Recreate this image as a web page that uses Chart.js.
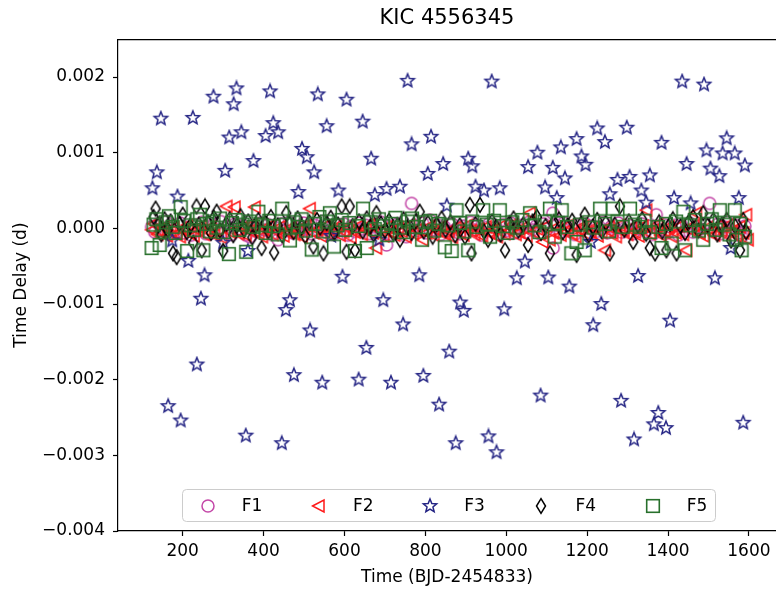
<!DOCTYPE html>
<html><head><meta charset="utf-8">
<script src="https://cdn.jsdelivr.net/npm/chart.js@4.4.1/dist/chart.umd.min.js"></script>
<style>html,body{margin:0;padding:0;background:#fff;overflow:hidden}#wrap{width:776px;height:592px;position:relative}</style>
</head><body><div id="wrap"><canvas id="c" width="776" height="592"></canvas></div>
<script>
// ---- data (x: BJD-2454833, y: time delay in days) ----
const seriesLabels = ['F1','F2','F3','F4','F5'];
const xTicks = [200,400,600,800,1000,1200,1400,1600];
const yTicks = [-0.004,-0.003,-0.002,-0.001,0,0.001,0.002];

const f1X=[123,131,140,149,158,167,176,185,194,203,212,221,230,239,248,257,267,276,285,294,303,312,321,330,339,348,357,366,375,384,393,402,411,420,428,436,445,454,463,472,481,490,499,508,518,527,536,545,554,563,572,581,590,599,608,617,626,635,644,653,662,671,680,690,704,713,722,731,740,753,766,775,784,793,802,811,820,829,838,847,856,866,876,885,894,903,912,921,930,939,948,957,966,975,984,993,1002,1011,1020,1029,1038,1047,1056,1065,1074,1083,1092,1101,1115,1116,1124,1133,1142,1151,1160,1169,1178,1187,1196,1205,1214,1223,1232,1241,1250,1259,1268,1277,1286,1295,1304,1313,1326,1335,1344,1353,1362,1371,1380,1389,1398,1407,1417,1426,1435,1444,1453,1462,1471,1480,1489,1503,1512,1521,1530,1539,1548,1557,1566,1575,1582,1590];
const f1Y=[0.00002,-0.00005,0.00006,-0.00002,0.00009,-0.00008,0.00003,-0.00004,0.00007,-0.00006,
0.00001,-0.00009,0.00004,-0.00003,0.00008,-0.00007,-0.00007,0.00005,-0.00002,0.00009,
-0.00005,0.00002,-0.00008,0.00006,-0.00001,0.00004,-0.00009,-0.00011,0.00003,-0.00004,
0.00007,-0.00002,0.00005,-0.00008,0.00001,-0.00015,0.00006,-0.00003,0.00008,-0.00006,
0.00002,-0.00004,0.00007,-0.00001,-0.00007,0.00004,-0.00003,0.00009,-0.00005,0.00001,
-0.00008,0.00005,-0.00002,0.00006,-0.00009,0.00003,-0.00004,0.00007,-0.00001,0.00004,
-0.00007,0.00002,-0.00005,0.00008,-0.00022,0.00003,-0.00004,0.00006,-0.00002,-0.00011,
0.00033,0.00004,-0.00003,0.00007,-0.00006,0.00011,-0.00002,0.00005,-0.00008,0.00002,
-0.00004,0.00006,-0.00001,-0.00007,0.00003,-0.00005,0.00008,-0.00002,0.00004,-0.00009,
0.00001,0.00006,-0.00004,0.00002,-0.00008,0.00005,-0.00003,0.00007,-0.00006,0.00001,
0.00004,-0.00005,0.00008,-0.00002,0.00003,-0.00007,0.00006,-0.00001,0.00020,-0.00026,
0.00004,-0.00005,0.00007,-0.00003,0.00002,-0.00008,0.00005,-0.00002,0.00006,-0.00009,
0.00003,-0.00004,0.00001,0.00008,-0.00006,0.00002,-0.00003,0.00007,-0.00005,0.00001,
0.00004,-0.00007,0.00000,0.00006,-0.00004,0.00003,-0.00008,0.00018,-0.00002,0.00005,
-0.00006,0.00002,0.00004,-0.00009,0.00003,-0.00003,0.00007,-0.00005,0.00002,-0.00001,
0.00006,0.00033,-0.00004,0.00005,-0.00007,0.00002,0.00008,-0.00003,0.00004,-0.00006,
-0.00011,0.00003];

const f2X=[125,130,138,146,154,162,170,178,186,194,203,212,220,228,237,245,254,262,270,279,287,296,309,318,329,338,347,356,365,372,379,388,397,406,414,423,432,441,450,459,468,477,486,495,505,515,524,533,543,552,561,570,580,589,598,607,616,626,635,644,653,662,671,679,688,697,706,715,724,733,742,752,761,770,779,794,803,812,821,830,840,849,858,867,876,886,895,904,913,922,932,941,950,959,968,978,987,996,1006,1015,1024,1033,1042,1051,1059,1068,1078,1091,1099,1108,1117,1126,1135,1145,1154,1163,1172,1182,1191,1200,1209,1218,1227,1236,1245,1254,1263,1272,1281,1291,1300,1310,1319,1328,1338,1347,1356,1365,1374,1383,1393,1402,1411,1420,1429,1438,1446,1455,1464,1470,1479,1488,1497,1506,1515,1524,1533,1542,1551,1560,1569,1578,1587,1594,1598];
const f2Y=[-0.00002,0.00006,-0.00008,-0.00004,0.00002,-0.00010,-0.00005,0.00001,-0.00007,-0.00011,
-0.00003,0.00004,-0.00006,-0.00010,-0.00002,0.00003,-0.00008,-0.00004,0.00002,-0.00009,
-0.00003,-0.00012,0.00029,-0.00005,0.00028,-0.00007,0.00001,-0.00009,-0.00003,0.00005,
0.00028,-0.00006,-0.00011,-0.00002,0.00003,-0.00008,-0.00004,0.00002,-0.00010,-0.00005,
0.00001,-0.00008,-0.00003,-0.00011,0.00004,0.00026,-0.00006,-0.00002,-0.00010,0.00003,
-0.00007,-0.00003,0.00002,-0.00009,-0.00004,0.00001,-0.00012,-0.00005,0.00003,-0.00008,
-0.00002,0.00005,-0.00006,-0.00026,-0.00003,-0.00010,0.00002,-0.00005,-0.00009,0.00001,
-0.00004,-0.00011,0.00004,-0.00007,-0.00002,-0.00015,-0.00006,0.00003,-0.00009,-0.00003,
0.00002,-0.00008,-0.00004,-0.00012,0.00001,-0.00005,-0.00009,0.00004,-0.00003,-0.00008,
-0.00001,-0.00010,0.00002,-0.00006,-0.00002,-0.00011,0.00003,-0.00007,-0.00003,0.00005,
-0.00008,-0.00004,0.00001,-0.00010,0.00020,-0.00005,-0.00001,-0.00018,0.00003,-0.00015,
-0.00006,0.00002,-0.00009,-0.00004,0.00004,-0.00007,-0.00011,-0.00002,0.00003,-0.00008,
-0.00004,0.00001,-0.00010,-0.00005,-0.00029,0.00002,-0.00006,-0.00011,0.00004,-0.00003,
-0.00008,0.00001,-0.00005,-0.00010,0.00003,0.00024,-0.00007,-0.00002,0.00005,-0.00009,
-0.00004,0.00002,-0.00011,-0.00006,0.00003,-0.00008,-0.00029,-0.00002,0.00004,0.00020,
-0.00006,-0.00010,0.00001,-0.00005,-0.00009,0.00003,-0.00003,-0.00008,0.00005,-0.00004,
-0.00010,0.00002,-0.00006,0.00018,-0.00015];

const f3X=[125,136,146,164,174,187,195,214,225,235,245,254,276,300,305,315,326,333,345,356,361,375,405,416,424,436,445,455,465,475,486,495,507,515,525,534,545,556,567,585,595,605,635,645,654,666,675,686,696,704,715,737,745,756,766,785,795,806,814,834,844,853,859,875,886,895,906,916,924,945,956,964,976,984,995,1026,1046,1054,1077,1085,1096,1104,1115,1125,1135,1145,1156,1174,1186,1196,1209,1215,1225,1235,1244,1256,1275,1284,1298,1305,1316,1326,1334,1346,1355,1365,1376,1384,1395,1405,1415,1435,1446,1456,1489,1495,1505,1516,1527,1535,1545,1555,1565,1575,1586,1590];
const f3Y=[0.00053,0.00074,0.00145,-0.00235,-0.00016,0.00042,-0.00254,-0.00043,0.00146,-0.00180,
-0.00093,-0.00062,0.00174,-0.00019,0.00076,0.00120,0.00164,0.00185,0.00127,-0.00274,
-0.00030,0.00089,0.00122,0.00181,0.00139,0.00127,-0.00284,-0.00108,-0.00095,-0.00194,
0.00048,0.00105,0.00094,-0.00135,0.00074,0.00177,-0.00204,0.00135,-0.00010,0.00050,
-0.00064,0.00170,-0.00200,0.00141,-0.00158,0.00092,0.00044,-0.00015,-0.00095,0.00052,
-0.00204,0.00055,-0.00127,0.00195,0.00111,-0.00062,-0.00195,0.00072,0.00121,-0.00233,
0.00085,0.00030,-0.00163,-0.00284,-0.00098,-0.00109,0.00092,0.00082,0.00055,0.00050,
-0.00275,0.00194,-0.00296,0.00053,-0.00107,-0.00066,-0.00044,0.00081,0.00100,-0.00221,
0.00054,-0.00065,0.00080,0.00040,0.00107,0.00066,-0.00077,0.00118,0.00095,0.00084,
-0.00018,-0.00128,0.00132,-0.00100,0.00114,0.00045,0.00064,-0.00228,0.00133,0.00068,
-0.00279,-0.00063,0.00050,0.00034,0.00070,-0.00259,-0.00244,0.00113,-0.00264,-0.00122,
0.00040,0.00194,0.00085,0.00033,0.00190,0.00103,0.00079,-0.00066,0.00069,0.00099,
0.00119,-0.00026,0.00099,0.00040,-0.00257,0.00083];

const f4X=[128,133,140,147,155,163,170,176,185,192,200,210,218,226,234,240,247,255,262,270,277,284,292,300,308,316,325,334,343,352,362,372,380,387,395,404,412,418,426,435,446,456,464,474,484,494,503,513,523,532,540,548,556,566,575,584,593,605,613,620,626,636,645,655,664,672,679,690,700,710,721,731,737,746,756,766,776,786,796,806,818,828,840,850,862,874,885,898,910,914,924,935,945,955,965,975,986,997,1008,1018,1030,1042,1054,1065,1076,1086,1097,1108,1118,1130,1140,1152,1163,1174,1185,1194,1204,1214,1225,1236,1246,1256,1268,1281,1292,1303,1314,1325,1336,1346,1355,1368,1378,1386,1396,1405,1412,1421,1431,1442,1452,1462,1475,1487,1498,1512,1522,1533,1545,1556,1566,1578,1586,1593];
const f4Y=[0.00015,0.00026,0.00004,-0.00008,0.00012,-0.00002,0.00009,-0.00033,-0.00038,0.00006,
0.00018,-0.00005,0.00003,-0.00019,0.00029,0.00005,-0.00029,0.00029,0.00008,-0.00006,
0.00014,0.00022,-0.00003,-0.00030,0.00006,0.00012,-0.00009,0.00004,0.00016,-0.00002,
0.00009,-0.00012,0.00003,0.00011,-0.00026,0.00007,-0.00004,0.00015,-0.00032,0.00004,
-0.00009,0.00020,0.00006,-0.00005,0.00013,0.00002,-0.00010,0.00008,-0.00024,0.00011,
0.00001,-0.00033,0.00007,0.00014,-0.00006,0.00005,0.00029,-0.00031,0.00029,0.00003,
-0.00029,0.00009,-0.00004,0.00013,0.00002,-0.00008,0.00020,0.00006,-0.00003,0.00010,
-0.00007,0.00004,-0.00015,0.00012,0.00001,-0.00006,0.00009,0.00022,-0.00004,0.00007,
-0.00011,0.00005,0.00013,-0.00002,0.00008,-0.00009,0.00004,-0.00011,0.00031,-0.00033,
0.00006,0.00031,-0.00004,-0.00015,0.00009,0.00002,-0.00008,-0.00029,0.00007,0.00013,
-0.00003,0.00005,-0.00022,0.00009,0.00015,-0.00006,0.00003,-0.00033,0.00008,0.00012,
-0.00005,0.00004,0.00010,-0.00035,0.00006,0.00018,-0.00009,0.00002,0.00011,-0.00004,
0.00007,-0.00033,0.00005,0.00029,-0.00002,0.00009,-0.00018,0.00004,0.00012,-0.00007,
-0.00026,-0.00033,0.00008,-0.00004,-0.00029,0.00006,0.00012,-0.00033,0.00003,-0.00006,
0.00009,0.00015,-0.00003,0.00020,0.00004,0.00011,-0.00008,0.00005,0.00011,-0.00016,
0.00003,-0.00029,0.00011,-0.00005];

const f5X=[123,128,135,143,150,158,166,175,182,195,203,211,220,228,236,243,251,259,267,276,284,292,300,314,322,331,340,348,357,366,375,387,396,405,414,424,435,446,455,465,474,484,494,505,519,528,538,547,556,564,574,583,593,602,612,626,635,646,655,665,675,685,695,706,716,726,737,747,757,767,777,792,800,812,822,833,848,857,865,877,886,896,906,916,926,943,952,960,970,984,993,1003,1015,1027,1040,1059,1070,1082,1095,1108,1120,1128,1137,1150,1161,1174,1182,1194,1205,1216,1232,1244,1254,1264,1275,1288,1306,1318,1330,1342,1355,1376,1384,1395,1409,1420,1438,1442,1455,1466,1476,1487,1497,1508,1518,1528,1540,1552,1565,1569,1578,1582,1590];
const f5Y=[-0.00026,0.00005,0.00012,-0.00022,-0.00003,0.00008,0.00016,0.00002,-0.00006,0.00028,
0.00010,-0.00030,0.00004,-0.00002,0.00012,0.00018,-0.00029,0.00006,-0.00004,0.00009,
0.00001,0.00013,-0.00005,-0.00034,0.00007,0.00011,-0.00002,0.00005,-0.00031,0.00009,
0.00002,0.00022,0.00004,-0.00006,0.00010,0.00003,-0.00008,0.00026,0.00005,-0.00016,
0.00008,0.00002,0.00012,-0.00003,-0.00028,0.00006,0.00015,-0.00004,0.00009,0.00020,
-0.00024,0.00004,0.00011,-0.00002,0.00007,-0.00030,0.00003,0.00026,-0.00026,0.00008,
-0.00001,0.00012,0.00003,-0.00009,0.00006,0.00014,0.00001,-0.00005,0.00009,0.00013,
0.00002,-0.00015,0.00008,0.00010,-0.00003,0.00006,-0.00025,0.00004,-0.00030,0.00024,
0.00007,-0.00004,-0.00029,0.00009,0.00002,0.00024,0.00005,-0.00011,0.00010,0.00024,
0.00003,-0.00006,0.00008,0.00001,0.00011,0.00020,0.00004,-0.00005,0.00009,0.00026,
-0.00011,0.00007,0.00024,0.00002,-0.00033,-0.00018,0.00005,-0.00029,0.00008,0.00001,
0.00026,0.00006,-0.00004,0.00026,0.00009,0.00002,0.00026,0.00005,0.00002,0.00010,
-0.00005,0.00002,-0.00026,0.00006,-0.00020,0.00009,0.00022,-0.00029,0.00004,0.00011,
-0.00003,-0.00015,0.00006,0.00012,-0.00002,0.00024,0.00005,-0.00008,0.00024,-0.00015,
0.00006,-0.00029,-0.00011];

// ---- styling ----
const FONT = 'DejaVu Sans';
const C1='rgb(196,72,168)', C2='rgb(255,25,25)', C3='rgb(36,36,132)', C4='#000000', C5='rgb(40,112,44)';

function mk(size, draw){const c=document.createElement('canvas');c.width=c.height=size;const g=c.getContext('2d');g.translate(size/2,size/2);draw(g);return c;}
const circleImg = mk(16,g=>{g.beginPath();g.arc(0,0,6,0,Math.PI*2);g.strokeStyle=C1;g.lineWidth=1.5;g.stroke();});
const triImg = mk(16,g=>{g.beginPath();g.moveTo(-6.5,0);g.lineTo(5,-6);g.lineTo(5,6);g.closePath();g.strokeStyle=C2;g.lineWidth=1.5;g.lineJoin='miter';g.stroke();});
const starImg = mk(18,g=>{g.beginPath();for(let i=0;i<10;i++){const r=i%2?3.1:7.0;const a=-Math.PI/2+i*Math.PI/5;g.lineTo(r*Math.cos(a),r*Math.sin(a));}g.closePath();g.strokeStyle=C3;g.lineWidth=1.5;g.lineJoin='miter';g.stroke();});
const diaImg = mk(18,g=>{g.beginPath();g.moveTo(0,-7.4);g.lineTo(4.5,0);g.lineTo(0,7.4);g.lineTo(-4.5,0);g.closePath();g.strokeStyle=C4;g.lineWidth=1.5;g.lineJoin='miter';g.stroke();});
const sqImg = mk(16,g=>{g.strokeStyle=C5;g.lineWidth=1.6;g.strokeRect(-6.3,-6.3,12.6,12.6);});

function zip(xs,ys){return xs.map((x,i)=>({x:x,y:ys[i]}));}
const imgs=[circleImg,triImg,starImg,diaImg,sqImg];
const cols=[C1,C2,C3,C4,C5];
const xs=[f1X,f2X,f3X,f4X,f5X], ys=[f1Y,f2Y,f3Y,f4Y,f5Y];

const datasets = seriesLabels.map((lab,i)=>({
  label: lab, data: zip(xs[i],ys[i]), pointStyle: imgs[i], pointRadius: 6,
  borderColor: cols[i], backgroundColor:'rgba(0,0,0,0)', showLine:false, order: 5-i
}));

const framePlugin = {
  id:'frame',
  afterDraw(chart){
    const a=chart.chartArea, ctx=chart.ctx;
    ctx.save(); ctx.strokeStyle='#000'; ctx.lineWidth=1.2;
    ctx.beginPath(); ctx.moveTo(a.left,a.top+0.5); ctx.lineTo(a.right,a.top+0.5); ctx.stroke();
    ctx.restore();
  }
};
const legendPlugin = {
  id:'inlegend',
  afterDraw(chart){
    const ctx=chart.ctx;
    const lx=182.5, ly=489.5, lw=533, lh=32, r=4;
    ctx.save();
    ctx.beginPath();
    ctx.moveTo(lx+r,ly);ctx.lineTo(lx+lw-r,ly);ctx.quadraticCurveTo(lx+lw,ly,lx+lw,ly+r);
    ctx.lineTo(lx+lw,ly+lh-r);ctx.quadraticCurveTo(lx+lw,ly+lh,lx+lw-r,ly+lh);
    ctx.lineTo(lx+r,ly+lh);ctx.quadraticCurveTo(lx,ly+lh,lx,ly+lh-r);
    ctx.lineTo(lx,ly+r);ctx.quadraticCurveTo(lx,ly,lx+r,ly);ctx.closePath();
    ctx.fillStyle='rgba(255,255,255,0.85)';ctx.fill();
    ctx.strokeStyle='#cccccc';ctx.lineWidth=1;ctx.stroke();
    ctx.font='17px "'+FONT+'"';ctx.fillStyle='#000';ctx.textBaseline='middle';ctx.textAlign='left';
    chart.data.datasets.forEach((ds,i)=>{
      const cx=207.7+i*111.25, cy=505.5;
      const im=ds.pointStyle;
      ctx.drawImage(im, Math.round(cx-im.width/2), Math.round(cy-im.height/2));
      ctx.fillText(ds.label, cx+34, cy+1);
    });
    ctx.restore();
  }
};

Chart.defaults.font.family = FONT;
Chart.defaults.color = '#000';

new Chart(document.getElementById('c'), {
  type:'scatter',
  data:{datasets},
  options:{
    responsive:false, animation:false, devicePixelRatio:1, events:[],
    layout:{autoPadding:false, padding:{left:0,right:0,top:0,bottom:0}},
    plugins:{
      legend:{display:false}, tooltip:{enabled:false},
      title:{display:true, text:'KIC 4556345', fullSize:false, color:'#000',
        font:{family:FONT,size:21,weight:'normal'}, padding:{top:6,bottom:8}}
    },
    scales:{
      x:{type:'linear', position:'bottom', min:40, max:1667,
        afterFit(s){s.height=61; s.paddingLeft=0; s.paddingRight=0;},
        afterBuildTicks(s){s.ticks=xTicks.map(v=>({value:v}));},
        ticks:{stepSize:200, includeBounds:false, maxRotation:0, autoSkip:false, padding:5, color:'#000', font:{family:FONT,size:17},
          callback:(v)=>String(v)},
        grid:{display:true, drawOnChartArea:false, drawTicks:true, tickLength:5, color:'#000', tickWidth:1.2},
        border:{display:true, color:'#000', width:1.2},
        title:{display:true, text:'Time (BJD-2454833)', color:'#000', font:{family:FONT,size:17}, padding:{top:2,bottom:4}}
      },
      y:{type:'linear', position:'left', min:-0.004, max:0.0025,
        afterFit(s){s.width=118; s.paddingTop=0; s.paddingBottom=0;},
        afterBuildTicks(s){s.ticks=yTicks.map(v=>({value:v}));},
        ticks:{stepSize:0.001, includeBounds:false, autoSkip:false, padding:8, color:'#000', font:{family:FONT,size:17},
          callback:(v)=>{const t=Math.abs(v).toFixed(3); return (v< -1e-9?'\u2212':'')+t;}},
        grid:{display:true, drawOnChartArea:false, drawTicks:true, tickLength:5, color:'#000', tickWidth:1.2},
        border:{display:true, color:'#000', width:1.2},
        title:{display:true, text:'Time Delay (d)', color:'#000', font:{family:FONT,size:17}, padding:{top:11,bottom:4}}
      }
    }
  },
  plugins:[framePlugin, legendPlugin]
});
</script>
</body></html>
